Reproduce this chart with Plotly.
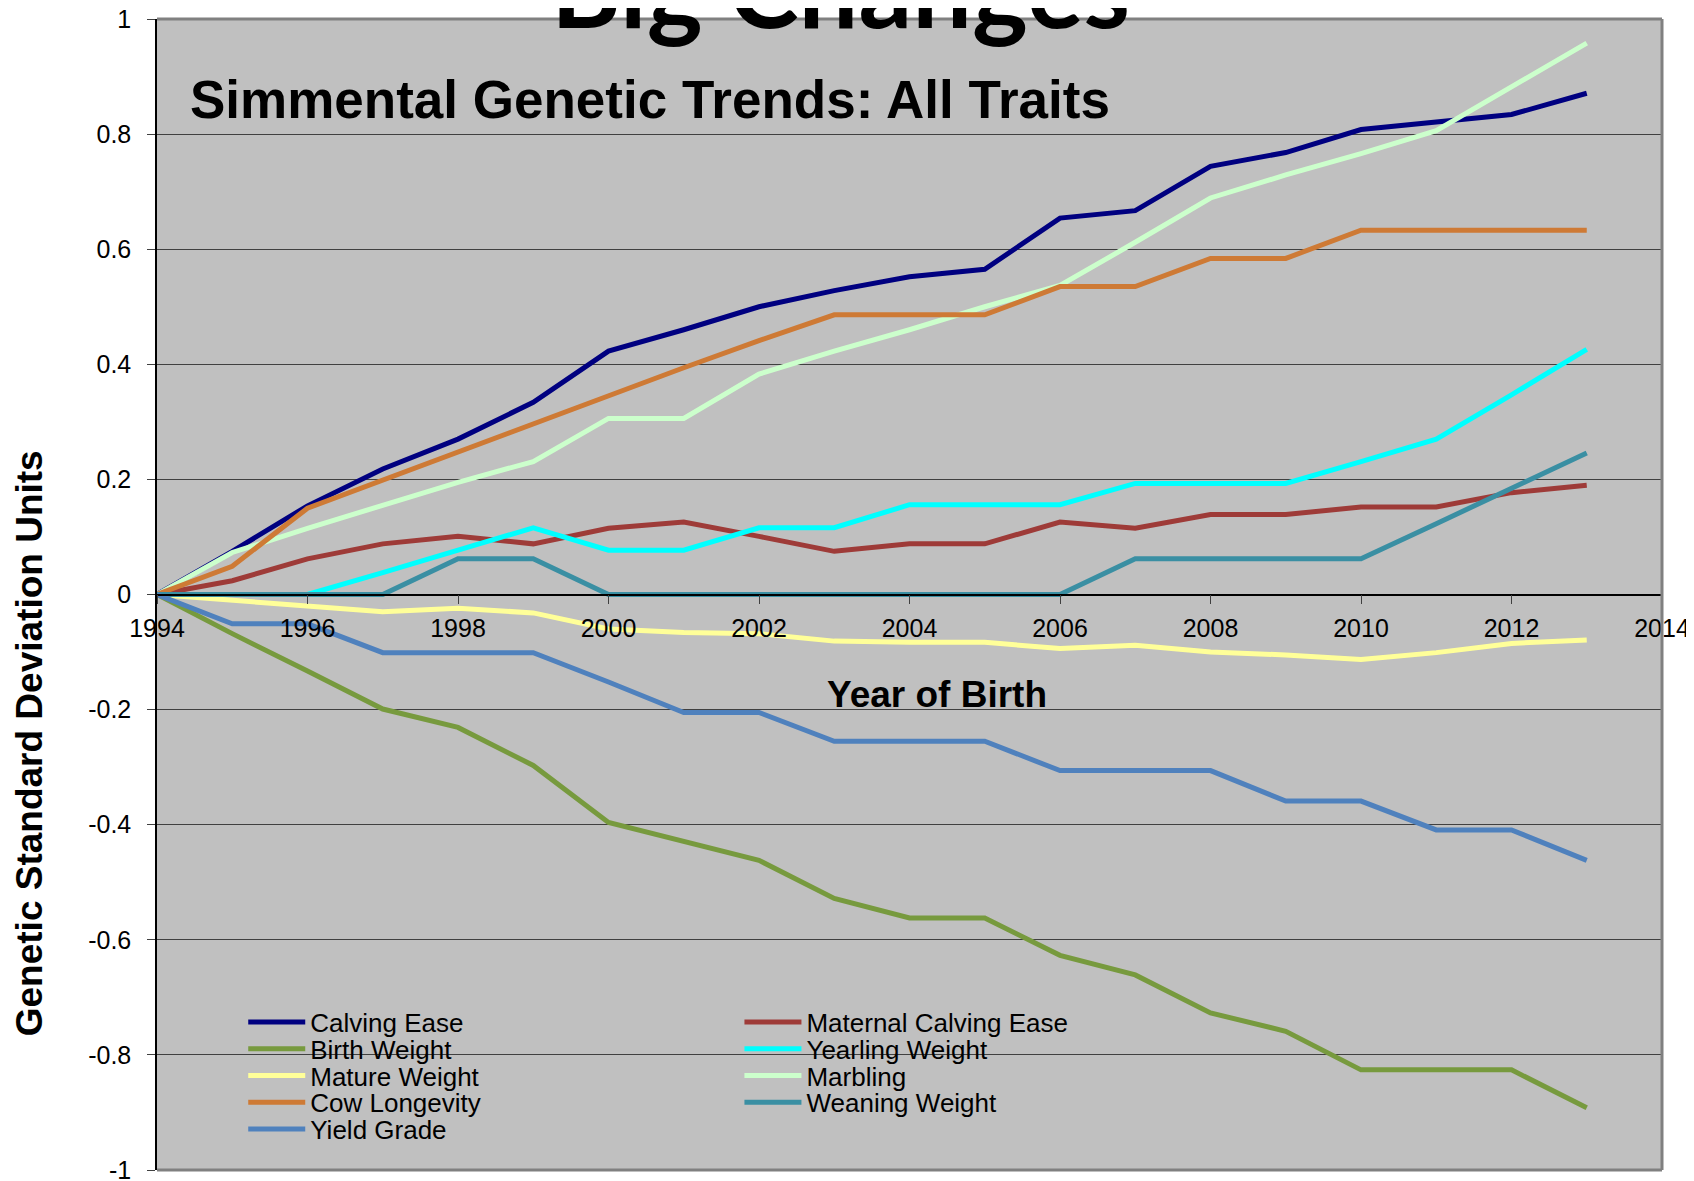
import plotly.graph_objects as go

# ---------------- data ----------------
years = list(range(1994, 2014))

calving_ease = [0, 0.075, 0.154, 0.218, 0.27, 0.334, 0.423, 0.46, 0.5, 0.528,
                0.552, 0.565, 0.654, 0.667, 0.744, 0.768, 0.808, 0.821, 0.834, 0.871]
maternal_calving_ease = [0, 0.024, 0.062, 0.088, 0.101, 0.088, 0.115, 0.126, 0.101, 0.075,
                         0.088, 0.088, 0.126, 0.115, 0.139, 0.139, 0.152, 0.152, 0.177, 0.19]
birth_weight = [0, -0.068, -0.133, -0.199, -0.231, -0.297, -0.396, -0.43, -0.462, -0.528,
                -0.562, -0.562, -0.627, -0.661, -0.727, -0.759, -0.826, -0.826, -0.826, -0.892]
yearling_weight = [0, 0, 0, 0.038, 0.077, 0.116, 0.077, 0.077, 0.116, 0.116,
                   0.156, 0.156, 0.156, 0.193, 0.193, 0.193, 0.231, 0.27, 0.347, 0.426]
mature_weight = [0, -0.01, -0.021, -0.03, -0.024, -0.032, -0.06, -0.066, -0.068, -0.081,
                 -0.083, -0.083, -0.094, -0.088, -0.1, -0.105, -0.113, -0.101, -0.085, -0.079]
marbling = [0, 0.073, 0.115, 0.156, 0.195, 0.231, 0.306, 0.306, 0.383, 0.423,
            0.46, 0.5, 0.537, 0.612, 0.689, 0.729, 0.766, 0.806, 0.881, 0.958]
cow_longevity = [0, 0.049, 0.15, 0.199, 0.248, 0.297, 0.346, 0.394, 0.441, 0.486,
                 0.486, 0.486, 0.535, 0.535, 0.584, 0.584, 0.633, 0.633, 0.633, 0.633]
weaning_weight = [0, 0, 0, 0, 0.062, 0.062, 0, 0, 0, 0,
                  0, 0, 0, 0.062, 0.062, 0.062, 0.062, 0.123, 0.185, 0.246]
yield_grade = [0, -0.051, -0.051, -0.101, -0.101, -0.101, -0.152, -0.205, -0.205, -0.255,
               -0.255, -0.255, -0.306, -0.306, -0.306, -0.359, -0.359, -0.409, -0.409, -0.462]

series_names = ["Calving Ease", "Maternal Calving Ease", "Birth Weight", "Yearling Weight",
                "Mature Weight", "Marbling", "Cow Longevity", "Weaning Weight", "Yield Grade"]
series_values = [calving_ease, maternal_calving_ease, birth_weight, yearling_weight,
                 mature_weight, marbling, cow_longevity, weaning_weight, yield_grade]

y_tick_vals = [1, 0.8, 0.6, 0.4, 0.2, 0, -0.2, -0.4, -0.6, -0.8, -1]
y_tick_text = ["1", "0.8", "0.6", "0.4", "0.2", "0", "-0.2", "-0.4", "-0.6", "-0.8", "-1"]
x_tick_vals = [1994, 1996, 1998, 2000, 2002, 2004, 2006, 2008, 2010, 2012, 2014]

# ---------------- styles ----------------
colors = {
    "Calving Ease": "#000080",
    "Maternal Calving Ease": "#9E3B38",
    "Birth Weight": "#779A3E",
    "Yearling Weight": "#00FFFF",
    "Mature Weight": "#FFFF99",
    "Marbling": "#CCFFCC",
    "Cow Longevity": "#CE7A35",
    "Weaning Weight": "#3A8FA3",
    "Yield Grade": "#4F81BD",
}

FONT = "Liberation Sans, Arial, sans-serif"

fig = go.Figure()

legend_layouts = {}
col_x = [0.0573, 0.3870]
row_y0 = 0.1286
row_step = 0.02325
for i, (name, vals) in enumerate(zip(series_names, series_values)):
    key = "legend" if i == 0 else f"legend{i + 1}"
    fig.add_trace(go.Scatter(
        x=years, y=vals, mode="lines", name=name,
        line=dict(color=colors[name], width=5),
        legend=key, showlegend=True,
    ))
    row, col = divmod(i, 2)
    legend_layouts[key] = dict(
        x=col_x[col], y=row_y0 - row * row_step,
        xanchor="left", yanchor="middle",
        xref="paper", yref="paper",
        bgcolor="rgba(0,0,0,0)", borderwidth=0,
        font=dict(family=FONT, size=26, color="black"),
        itemwidth=57, orientation="v",
    )

# the page body adds an 8px offset, so margins are compensated
fig.update_layout(
    width=1694, height=1181,
    margin=dict(l=149, r=40, t=11, b=19, autoexpand=False),
    paper_bgcolor="white",
    plot_bgcolor="#C0C0C0",
    font=dict(family=FONT, size=25, color="black"),
    **legend_layouts,
)

fig.update_xaxes(
    range=[1994, 2014],
    tickvals=x_tick_vals,
    anchor="free", position=0.5,
    showline=True, linecolor="black", linewidth=1.5,
    ticks="outside", ticklen=9, tickcolor="#404040", tickwidth=1,
    showgrid=False, zeroline=False, automargin=False,
    tickfont=dict(family=FONT, size=25, color="black"),
    ticklabelstandoff=3, ticklabeloverflow="allow",
)
fig.update_yaxes(
    range=[-1, 1],
    tickvals=y_tick_vals, ticktext=y_tick_text,
    showline=True, linecolor="black", linewidth=1.5,
    ticks="outside", ticklen=8, tickcolor="#404040", tickwidth=1,
    showgrid=True, gridcolor="#404040", gridwidth=1,
    zeroline=False, automargin=False,
    tickfont=dict(family=FONT, size=25, color="black"),
    ticklabelstandoff=11, ticklabeloverflow="allow",
)

# plot-area border (top, right, bottom)
for x0, y0, x1, y1 in [(0, 1, 1, 1), (1, 0, 1, 1), (0, 0, 1, 0)]:
    fig.add_shape(type="line", xref="paper", yref="paper", x0=x0, y0=y0, x1=x1, y1=y1,
                  line=dict(color="#808080", width=3), layer="above")

fig.add_annotation(
    text="<b>Big Changes</b>", xref="paper", yref="paper", x=0.454, y=1.028,
    xanchor="center", yanchor="middle", showarrow=False,
    font=dict(family="Lato, Open Sans, sans-serif", size=106, color="black"),
)
fig.add_annotation(
    text="<b>Simmental Genetic Trends: All Traits</b>", xref="paper", yref="paper",
    x=0.0208, y=0.930, xanchor="left", yanchor="middle", showarrow=False,
    font=dict(family=FONT, size=53, color="black"),
)
fig.add_annotation(
    text="<b>Year of Birth</b>", xref="paper", yref="paper",
    x=0.518, y=0.413, xanchor="center", yanchor="middle", showarrow=False,
    font=dict(family=FONT, size=37, color="black"),
)
fig.add_annotation(
    text="<b>Genetic Standard Deviation Units</b>", xref="paper", yref="paper",
    x=-0.0842, y=0.371, xanchor="center", yanchor="middle", showarrow=False,
    textangle=-90,
    font=dict(family=FONT, size=37, color="black"),
)

fig.write_html("out.html")
